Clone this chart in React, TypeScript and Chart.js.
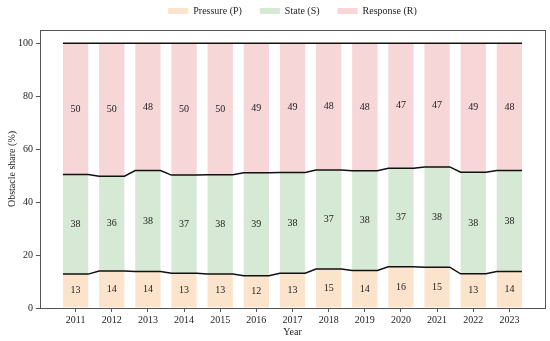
import React, { useEffect, useRef } from 'react';
import { Chart, registerables } from 'chart.js';
Chart.register(...registerables);

const years = ['2011', '2012', '2013', '2014', '2015', '2016', '2017', '2018', '2019', '2020', '2021', '2022', '2023'];
const pressure = [12.8, 14.0, 13.8, 13.1, 12.8, 12.2, 13.1, 14.7, 14.2, 15.6, 15.4, 12.9, 13.8];
const state = [37.6, 35.8, 38.1, 37.1, 37.5, 38.9, 38.1, 37.4, 37.6, 37.2, 37.9, 38.4, 38.1];
const response = [49.6, 50.2, 48.1, 49.8, 49.7, 48.9, 48.8, 47.9, 48.2, 47.2, 46.7, 48.7, 48.1];
const seriesNames = ['Pressure (P)', 'State (S)', 'Response (R)'];
const yTicks = [0, 20, 40, 60, 80, 100];

const FONT = "'Liberation Serif', 'Times New Roman', serif";
const COLORS = ['#FCE3CC', '#D6E9D4', '#F7D6D8'];
const HALF = 0.35;

function edgeLine(vals: number[]) {
  const pts: { x: number; y: number }[] = [];
  vals.forEach((v, i) => {
    pts.push({ x: i - HALF, y: v });
    pts.push({ x: i + HALF, y: v });
  });
  return pts;
}

export default function App() {
  const ref = useRef<HTMLCanvasElement>(null);
  useEffect(() => {
    if (!ref.current) return;
    const series = [pressure, state, response];
    const cum1 = pressure.map((p) => p);
    const cum2 = pressure.map((p, i) => p + state[i]);
    const cum3 = pressure.map((p, i) => p + state[i] + response[i]);

    const labelPlugin = {
      id: 'barLabels',
      afterDatasetsDraw(chart: any) {
        const ctx = chart.ctx;
        ctx.save();
        ctx.font = `10px ${FONT}`;
        ctx.fillStyle = '#222';
        ctx.textAlign = 'center';
        ctx.textBaseline = 'middle';
        for (let d = 0; d < 3; d++) {
          const meta = chart.getDatasetMeta(d);
          meta.data.forEach((el: any, i: number) => {
            const c = el.getCenterPoint();
            ctx.fillText(String(Math.round(series[d][i])), c.x, c.y);
          });
        }
        ctx.restore();
      },
    };
    const framePlugin = {
      id: 'frame',
      afterLayout(chart: any) {
        const lg = chart.legend;
        if (lg) {
          lg.top -= 4;
          lg.bottom -= 4;
        }
      },
      afterDraw(chart: any) {
        const { left, right, top, bottom } = chart.chartArea;
        const ctx = chart.ctx;
        ctx.save();
        ctx.strokeStyle = '#555';
        ctx.lineWidth = 1;
        ctx.strokeRect(Math.round(left) + 0.5, Math.round(top) + 0.5, Math.round(right - left), Math.round(bottom - top));
        ctx.restore();
      },
    };

    const lineDs = (vals: number[]) => ({
      type: 'line' as const,
      label: '',
      data: edgeLine(vals),
      yAxisID: 'y2',
      borderColor: '#111',
      borderWidth: 1.5,
      pointRadius: 0,
      tension: 0,
      fill: false,
      order: -1,
    });

    const chart = new Chart(ref.current, {
      type: 'bar',
      data: {
        datasets: [
          ...series.map((s, d) => ({
            type: 'bar' as const,
            label: seriesNames[d],
            data: s.map((v, i) => ({ x: i, y: v })),
            backgroundColor: COLORS[d],
            borderWidth: 0,
            barPercentage: 0.7,
            categoryPercentage: 1.0,
            yAxisID: 'y',
          })),
          lineDs(cum1),
          lineDs(cum2),
          lineDs(cum3),
        ] as any,
      },
      options: {
        animation: false,
        responsive: false,
        events: [],
        layout: { padding: { left: 0, right: 5, top: -8, bottom: 0 } },
        plugins: {
          tooltip: { enabled: false },
          legend: {
            position: 'top',
            fullSize: false,
            labels: {
              filter: (item: any) => item.datasetIndex < 3,
              font: { family: FONT, size: 10 },
              color: '#222',
              boxWidth: 20,
              boxHeight: 6,
              padding: 18,
            },
          },
        },
        scales: {
          x: {
            type: 'linear',
            min: -0.985,
            max: 12.985,
            offset: false,
            stacked: true,
            afterBuildTicks: (scale: any) => {
              scale.ticks = years.map((_, i) => ({ value: i }));
            },
            afterFit: (scale: any) => {
              scale.height = 33;
            },
            ticks: {
              callback: (v: any) => years[v] ?? '',
              font: { family: FONT, size: 10 },
              color: '#222',
              padding: 2,
              maxRotation: 0,
              autoSkip: false,
            },
            grid: { display: true, offset: false, drawOnChartArea: false, drawTicks: true, tickLength: 4, color: '#555' },
            border: { display: true, color: '#555' },
            title: { display: true, text: 'Year', font: { family: FONT, size: 10 }, color: '#222', padding: { top: 0, bottom: 3 } },
          },
          y: {
            min: 0,
            max: 105,
            stacked: true,
            afterBuildTicks: (scale: any) => {
              scale.ticks = yTicks.map((v) => ({ value: v }));
            },
            afterFit: (scale: any) => {
              scale.width = 40;
            },
            ticks: { font: { family: FONT, size: 10 }, color: '#222', padding: 3 },
            grid: { display: true, drawOnChartArea: false, drawTicks: true, tickLength: 4, color: '#555' },
            border: { display: true, color: '#555' },
            title: { display: true, text: 'Obstacle share (%)', font: { family: FONT, size: 10 }, color: '#222', padding: { top: 6, bottom: 0 } },
          },
          y2: {
            display: false,
            min: 0,
            max: 105,
          },
        },
      },
      plugins: [labelPlugin, framePlugin],
    } as any);
    return () => chart.destroy();
  }, []);
  return (
    <div style={{ position: 'fixed', left: 0, top: 0, width: 550, height: 341, background: '#fff' }}>
      <canvas ref={ref} width={550} height={341} style={{ width: 550, height: 341 }} />
    </div>
  );
}
